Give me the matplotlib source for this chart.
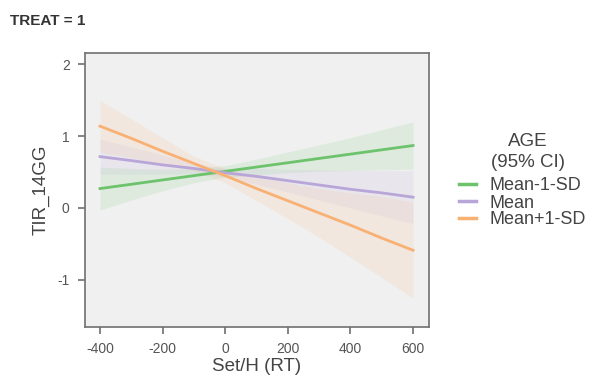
import numpy as np
from matplotlib import pyplot as plt

plt.rcParams['font.family'] = ['Liberation Sans', 'DejaVu Sans']
plt.rcParams['axes.unicode_minus'] = False

# valores
x = [-400, -300, -200, -100, 0, 100, 200, 300, 400, 500, 600]
verde = [0.27, 0.33, 0.39, 0.45, 0.51, 0.57, 0.63, 0.69, 0.75, 0.81, 0.87]
verde_inf = [-0.03, 0.11, 0.24, 0.35, 0.43, 0.46, 0.49, 0.51, 0.52, 0.53, 0.54]
verde_sup = [0.57, 0.55, 0.54, 0.55, 0.59, 0.68, 0.78, 0.88, 0.98, 1.09, 1.20]
morado = [0.715, 0.66, 0.60, 0.55, 0.49, 0.44, 0.38, 0.32, 0.26, 0.21, 0.15]
morado_inf = [0.47, 0.47, 0.47, 0.48, 0.43, 0.33, 0.22, 0.11, 0.0, -0.11, -0.22]
morado_sup = [0.96, 0.85, 0.74, 0.62, 0.55, 0.55, 0.54, 0.53, 0.52, 0.52, 0.52]
naranja = [1.14, 0.97, 0.79, 0.62, 0.45, 0.27, 0.10, -0.07, -0.24, -0.42, -0.59]
naranja_inf = [0.78, 0.70, 0.60, 0.52, 0.35, 0.10, -0.15, -0.41, -0.69, -0.97, -1.26]
naranja_sup = [1.50, 1.24, 0.98, 0.72, 0.55, 0.44, 0.35, 0.27, 0.21, 0.16, 0.08]
etiquetas = ['Mean-1-SD', 'Mean', 'Mean+1-SD']
colores = ['#6cc36c', '#b9a6d8', '#f8b173']

fig = plt.figure(figsize=(5.97, 3.88), dpi=100)
ax = fig.add_axes([85 / 597, 1 - 327 / 388, 344 / 597, 274 / 388])
ax.set_facecolor('#f0f0f0')

series = [(verde, verde_inf, verde_sup), (morado, morado_inf, morado_sup),
          (naranja, naranja_inf, naranja_sup)]
for (y, lo, hi), c in zip(series, colores):
    ax.fill_between(x, lo, hi, color=c, alpha=0.13, lw=0)
for (y, lo, hi), c, lab in zip(series, colores, etiquetas):
    ax.plot(x, y, color=c, lw=2, label=lab)

ax.set_xlim(-448, 651)
ax.set_ylim(-1.66, 2.16)
ax.set_xticks([-400, -200, 0, 200, 400, 600])
ax.set_yticks([-1, 0, 1, 2])
for s in ax.spines.values():
    s.set_color('#707070')
    s.set_linewidth(1.2)
ax.tick_params(colors='#707070', labelcolor='#555555', labelsize=10,
               length=5, width=1.2)
ax.tick_params(axis='x', pad=6)
ax.tick_params(axis='y', pad=6)
ax.set_xlabel('Set/H (RT)', fontsize=13.5, color='#444444', labelpad=1)
ax.set_ylabel('TIR_14GG', fontsize=13.5, color='#444444', labelpad=6)

# titulo de la leyenda aparte para controlar el espacio
fig.text(528 / 597, 1 - 152 / 388, 'AGE\n(95% CI)', fontsize=13.5,
         color='#444444', ha='center', va='center', linespacing=1.3)
leg = fig.legend(*ax.get_legend_handles_labels(),
                 loc='center left', bbox_to_anchor=(459 / 597, 1 - 203 / 388),
                 frameon=False, fontsize=13,
                 handlelength=0.95, handletextpad=0.75, labelspacing=0.0,
                 borderpad=0, borderaxespad=0)
for t in leg.get_texts():
    t.set_color('#444444')
for h in leg.get_lines():
    h.set_linewidth(2.5)

fig.text(10 / 597, 1 - 21 / 388, 'TREAT = 1', fontsize=11, fontweight='bold',
         color='#333333', va='center')

fig.savefig('out.png', dpi=100)
